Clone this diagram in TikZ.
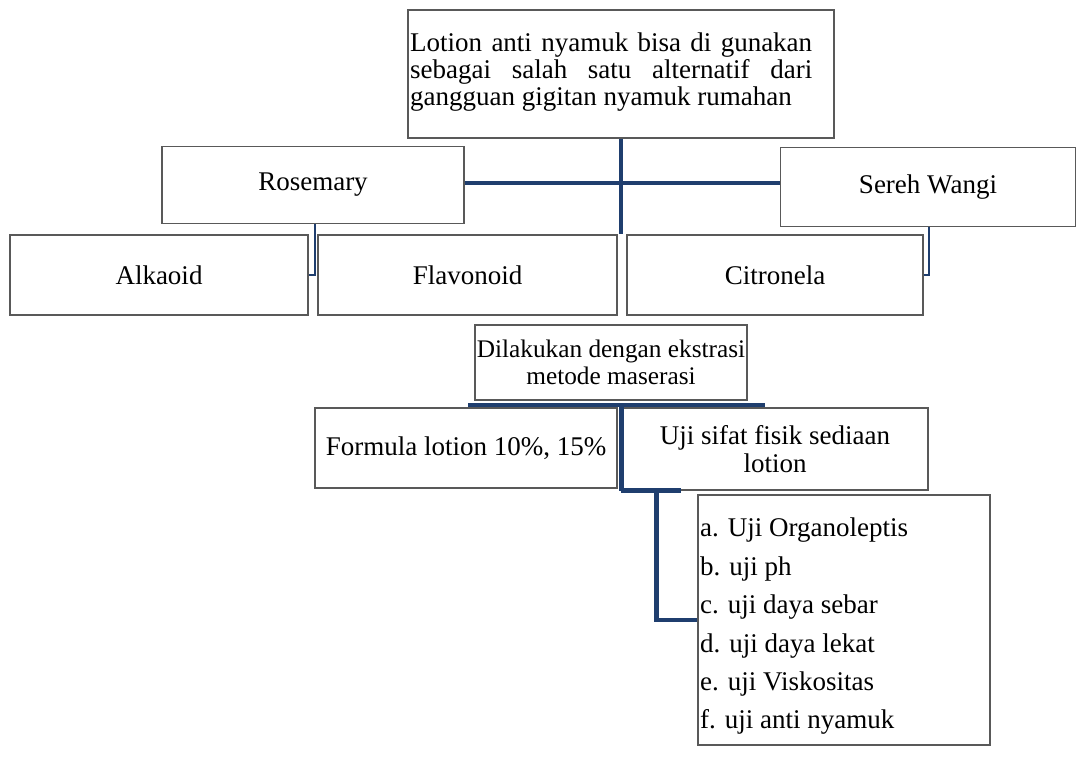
\documentclass[tikz,border=0pt]{standalone}
\usepackage{fontspec}
\setmainfont{Liberation Serif}
\definecolor{conn}{HTML}{1F3E6E}
\begin{document}
\begin{tikzpicture}[x=1pt,y=-1pt,
  box/.style={draw=black!65, line width=1.4pt, rectangle, inner sep=0pt,
              font=\fontsize{27}{27.5}\selectfont, align=center},
  txt/.style={inner sep=0pt, align=left},
  link/.style={draw=conn, line width=4.5pt},
  thinlink/.style={draw=conn, line width=2.8pt}]
\useasboundingbox (0,0) rectangle (1079,756);

% boxes
\node[box, minimum width=426pt, minimum height=128pt] (top) at (621,74) {};
\node[txt, anchor=north west, font=\fontsize{27}{27}\selectfont] (toptext) at (410,33)
  {\makebox[402pt][s]{Lotion anti nyamuk bisa di gunakan}\\
   \makebox[402pt][s]{sebagai salah satu alternatif dari}\\
   gangguan gigitan nyamuk rumahan};

\node[box, minimum width=302pt, minimum height=77pt] (rosemary) at (313,185) {Rosemary};
\node[box, minimum width=295pt, minimum height=79pt] (sereh) at (928,187) {Sereh Wangi};

\node[box, minimum width=298pt, minimum height=80pt] (alkaoid) at (159,275) {Alkaoid};
\node[box, minimum width=299pt, minimum height=80pt] (flavonoid) at (467.5,275) {Flavonoid};
\node[box, minimum width=296pt, minimum height=80pt] (citronela) at (775,275) {Citronela};

\node[box, minimum width=272pt, minimum height=75pt, font=\fontsize{25.3}{27.5}\selectfont]
  (dilakukan) at (611,362.5) {Dilakukan dengan ekstrasi\\metode maserasi};

\node[box, minimum width=302pt, minimum height=80pt] (formula) at (466,448) {Formula lotion 10\%, 15\%};
\node[box, minimum width=306pt, minimum height=82pt] (uji) at (775,449)
  {Uji sifat fisik sediaan\\lotion};

\node[box, minimum width=292pt, minimum height=250pt] (list) at (844,620) {};
\node[txt, anchor=north west, font=\fontsize{27}{38.4}\selectfont] (listtext) at (700,518)
  {a. Uji Organoleptis\\
   b. uji ph\\
   c. uji daya sebar\\
   d. uji daya lekat\\
   e. uji Viskositas\\
   f. uji anti nyamuk};

% connectors
\draw[link] (top.south) -- (top.south |- flavonoid.north);
\draw[link] (rosemary.east |- 0,183) -- (sereh.west |- 0,183);
\draw[thinlink] ([xshift=2pt]rosemary.south) |- (alkaoid.east);
\draw[thinlink] ([xshift=1pt]sereh.south) |- (citronela.east);

\coordinate (hl) at (468,405);
\coordinate (hr) at (765,405);
\draw[link] (hl) -- (hr);
\draw[link] (uji.west |- hl) -- (uji.south west);
\draw[link] (uji.south west) -- ([xshift=60pt]uji.south west);
\draw[link] ([xshift=35pt]uji.south west) |- (list.west);
\end{tikzpicture}
\end{document}
